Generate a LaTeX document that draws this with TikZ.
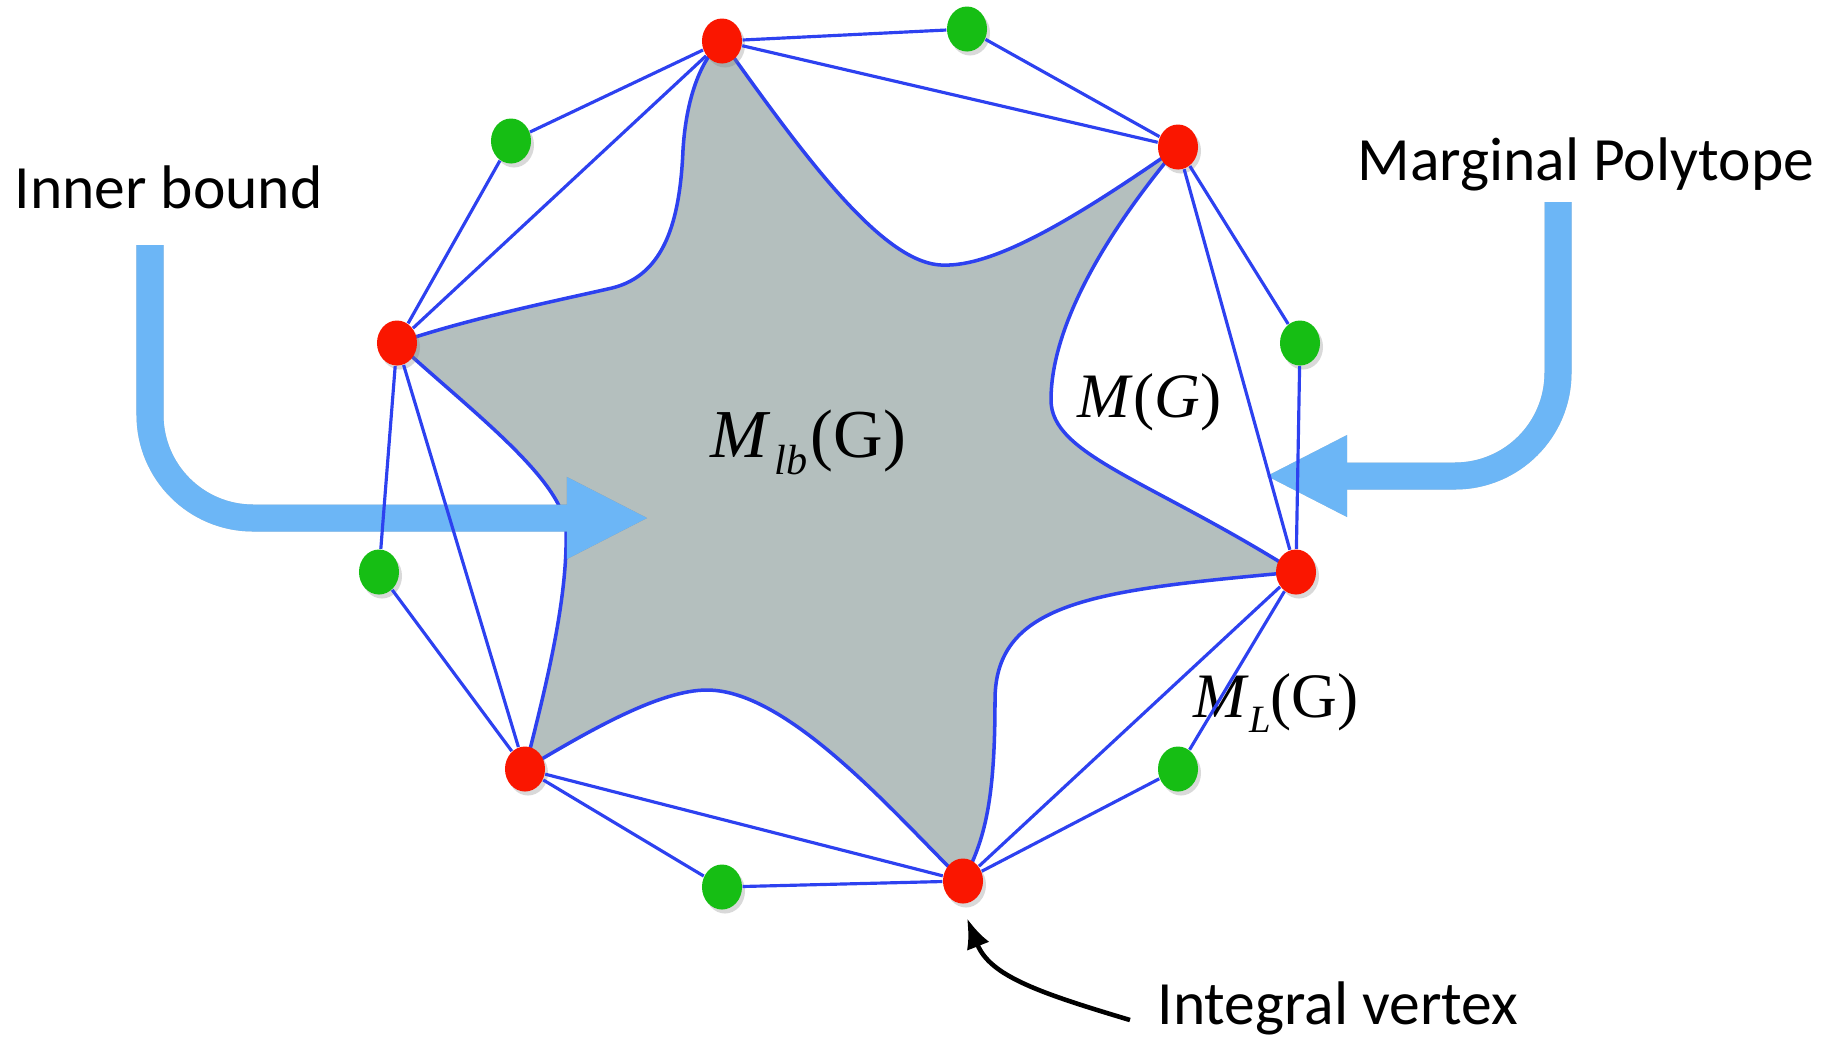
\documentclass[tikz,border=0pt]{standalone}
\usepackage{fontspec}
\setmainfont{Carlito}
\newfontfamily\timesfont{Liberation Serif}
\usetikzlibrary{arrows.meta,shapes.geometric,shadows,backgrounds}

\definecolor{edgeblue}{RGB}{45,65,240}
\definecolor{starfill}{RGB}{180,191,190}
\definecolor{arrowblue}{RGB}{108,182,246}
\definecolor{intred}{RGB}{250,22,0}
\definecolor{fracgreen}{RGB}{22,190,20}

\tikzset{
  vtx/.style={ellipse, inner sep=0pt, minimum width=0.40cm, minimum height=0.45cm,
    drop shadow={shadow xshift=0.03cm, shadow yshift=-0.04cm, opacity=0.3}},
  intvtx/.style={vtx, fill=intred},
  fracvtx/.style={vtx, fill=fracgreen},
  poly/.style={draw=edgeblue, line width=0.9pt},
  bigarrow/.style={line width=0.27cm, draw=arrowblue, rounded corners=1.03cm,
    -{Triangle[length=0.8cm, width=0.82cm, line width=0pt]}},
  txt/.style={inner sep=0pt, font=\fontsize{17.5}{21}\selectfont},
  mathtxt/.style={inner sep=0pt, font=\timesfont\fontsize{18}{22}\selectfont},
  pointer/.style={draw=black, line width=1.3pt, -{Latex[length=0.3cm, width=0.24cm]}}
}

\begin{document}
\begin{tikzpicture}[x = 0.01cm, y = -0.01cm]

  \useasboundingbox (0,0) rectangle (1842,1038);

  % integral vertices
  \foreach \n/\x/\y in {r1/722/41, r2/1178/147, r3/1296/572,
                        r4/963/881, r5/525/769, r6/397/343}
    \node[intvtx] (\n) at (\x,\y) {};

  % fractional vertices
  \foreach \n/\x/\y in {g1/967/29, g2/1300/343, g3/1178/769,
                        g4/722/887, g5/379/572, g6/511/141}
    \node[fracvtx] (\n) at (\x,\y) {};

  % inner bound (star)
  \begin{scope}[on background layer]
  \draw[fill=starfill, draw=edgeblue, line width=1pt]
    (r1.center) .. controls (800,150) and (880,262) .. (941,265)
    .. controls (995,268) and (1080,215) .. (r2.center)
    .. controls (1100,240) and (1051,330) .. (1051,400)
    .. controls (1051,455) and (1150,480) .. (r3.center)
    .. controls (1100,590) and (995,600) .. (995,700)
    .. controls (995,800) and (985,840) .. (r4.center)
    .. controls (900,820) and (790,690) .. (707,690)
    .. controls (660,690) and (590,730) .. (r5.center)
    .. controls (545,690) and (568,600) .. (566,530)
    .. controls (564,480) and (470,410) .. (r6.center)
    .. controls (470,318) and (560,300) .. (612,288)
    .. controls (665,275) and (680,220) .. (683,150)
    .. controls (686,100) and (700,60) .. (r1.center) -- cycle;
  \end{scope}

  % big arrows
  \coordinate (ibtop) at (150,245);
  \coordinate (ibtip) at (647,518);
  \coordinate (mptop) at (1558,202);
  \coordinate (mptip) at (1267,476);
  \draw[bigarrow, draw=black, opacity=0.22, shift={(4,4)}] (ibtop) |- (ibtip);
  \draw[bigarrow] (ibtop) |- (ibtip);
  \draw[bigarrow, draw=black, opacity=0.22, shift={(4,4)}] (mptop) |- (mptip);
  \draw[bigarrow] (mptop) |- (mptip);

  % labels
  \node[mathtxt, anchor=base west, font=\timesfont\fontsize{19.5}{22}\selectfont] (mlb) at (710,457)
    {\textit{M}\kern1pt\raisebox{-5pt}{\fontsize{12}{12}\selectfont\textit{lb}}\kern1pt(G)};
  \node[mathtxt, anchor=base west] (mg) at (1077,417) {\textit{M}(\textit{G})};
  \node[mathtxt, anchor=base west] (ml) at (1193,717)
    {\textit{M}\raisebox{-4.5pt}{\fontsize{11}{11}\selectfont\textit{L}}(G)};

  % polytope edges
  \foreach \a/\b in {r1/g1, g1/r2, r2/g2, g2/r3, r3/g3, g3/r4,
                     r4/g4, g4/r5, r5/g5, g5/r6, r6/g6, g6/r1,
                     r1/r2, r2/r3, r3/r4, r4/r5, r5/r6, r6/r1}
    \draw[poly] (\a) -- (\b);

  \node[txt, anchor=base west] (ib) at (14,208) {Inner bound};
  \node[txt, anchor=base west] (mp) at (1357,180) {Marginal Polytope};
  \node[txt, anchor=base west] (iv) at (1157,1024) {Integral vertex};

  \draw[pointer] ([shift={(-27,-4)}]iv.base west)
    .. controls +(-90,-27) and +(23,58) .. ([shift={(4,14)}]r4.south);

\end{tikzpicture}
\end{document}
